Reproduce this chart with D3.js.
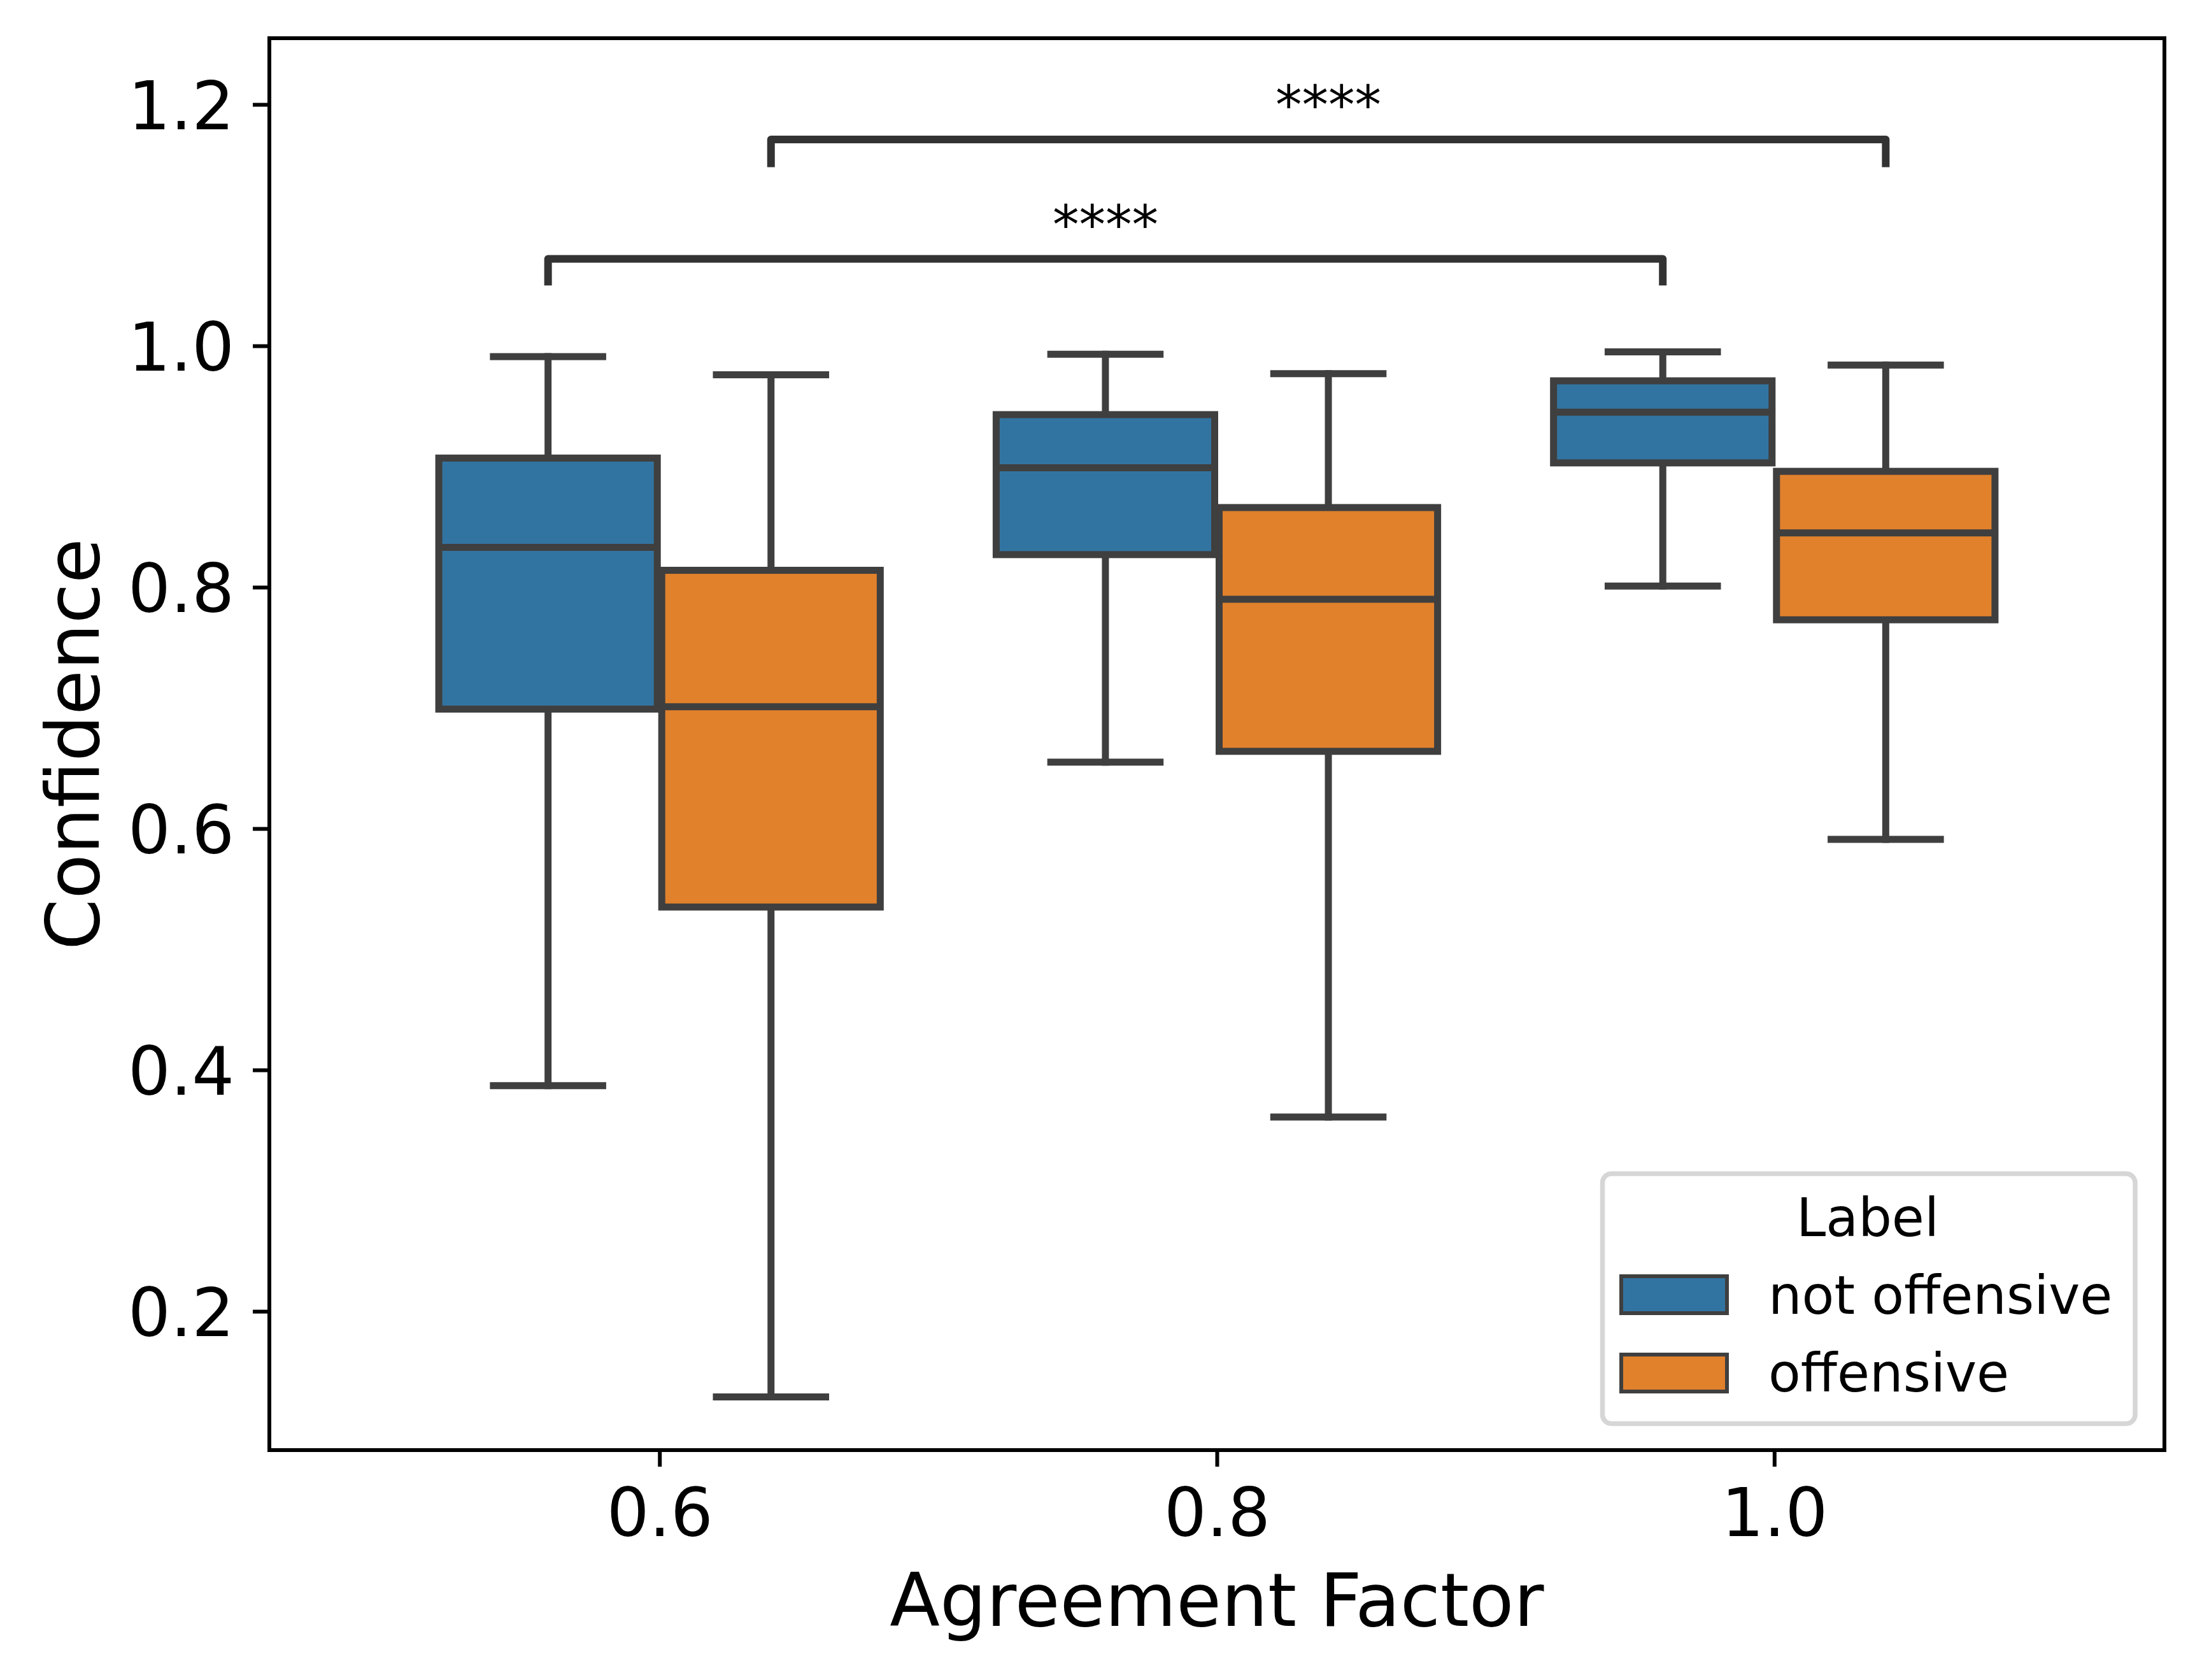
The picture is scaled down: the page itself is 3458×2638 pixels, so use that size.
<!DOCTYPE html>
<html>
<head>
<meta charset="utf-8">
<script src="https://cdn.jsdelivr.net/npm/d3@7"></script>
<style>
  html, body { margin: 0; padding: 0; background: #ffffff; }
  svg { display: block; }
  text { font-family: "DejaVu Sans", sans-serif; }
</style>
</head>
<body>
<svg id="chart" width="3458" height="2638"></svg>
<script>
// ---------------- data ----------------
const categories = ["0.6", "0.8", "1.0"];
const hues = ["not offensive", "offensive"];
const hueColors = ["#3274a1", "#e1812c"];
// each entry: [lower whisker, Q1, median, Q3, upper whisker]
const notOffensiveStats = [
  [0.387, 0.699, 0.833, 0.907, 0.991],
  [0.655, 0.827, 0.899, 0.943, 0.993],
  [0.801, 0.903, 0.945, 0.971, 0.995]
];
const offensiveStats = [
  [0.129, 0.535, 0.701, 0.814, 0.976],
  [0.361, 0.664, 0.790, 0.866, 0.977],
  [0.591, 0.773, 0.845, 0.896, 0.984]
];
const yTicks = [0.2, 0.4, 0.6, 0.8, 1.0, 1.2];
const yDomain = [0.085, 1.2549];
// significance annotations
const annotPairs = [
  { from: ["0.6", "not offensive"], to: ["1.0", "not offensive"], y: 1.072, tip: 1.050, label: "****" },
  { from: ["0.6", "offensive"], to: ["1.0", "offensive"], y: 1.171, tip: 1.148, label: "****" }
];
const xLabel = "Agreement Factor";
const yLabel = "Confidence";
const legendTitle = "Label";

// ---------------- layout ----------------
const L = 423, R = 3399, T = 60, B = 2277;
const lineColor = "#3f3f3f";
const svg = d3.select("#chart");

const x = d3.scalePoint().domain(categories).range([L, R]).padding(0.7);
const step = x.step();
const xh = d3.scaleBand().domain(hues).range([-0.4 * step, 0.4 * step]);
const boxW = xh.bandwidth() * 0.98;
const y = d3.scaleLinear().domain(yDomain).range([B, T]);

svg.append("rect").attr("x", 0).attr("y", 0).attr("width", 3458).attr("height", 2638).attr("fill", "#fff");

// ---------------- boxes ----------------
const seriesStats = [notOffensiveStats, offensiveStats];
const boxData = [];
hues.forEach((h, hi) => {
  categories.forEach((c, ci) => {
    const s = seriesStats[hi][ci];
    boxData.push({ cat: c, hue: h, color: hueColors[hi], lo: s[0], q1: s[1], med: s[2], q3: s[3], hi: s[4] });
  });
});

const gBoxes = svg.append("g");
const bx = d => x(d.cat) + xh(d.hue) + xh.bandwidth() / 2;

const gb = gBoxes.selectAll("g.box").data(boxData).enter().append("g").attr("class", "box");
// whiskers
gb.append("line")
  .attr("x1", bx).attr("x2", bx)
  .attr("y1", d => y(d.q3)).attr("y2", d => y(d.hi))
  .attr("stroke", lineColor).attr("stroke-width", 11).attr("stroke-linecap", "square");
gb.append("line")
  .attr("x1", bx).attr("x2", bx)
  .attr("y1", d => y(d.q1)).attr("y2", d => y(d.lo))
  .attr("stroke", lineColor).attr("stroke-width", 11).attr("stroke-linecap", "square");
// caps
gb.append("line")
  .attr("x1", d => bx(d) - boxW / 4).attr("x2", d => bx(d) + boxW / 4)
  .attr("y1", d => y(d.hi)).attr("y2", d => y(d.hi))
  .attr("stroke", lineColor).attr("stroke-width", 11).attr("stroke-linecap", "square");
gb.append("line")
  .attr("x1", d => bx(d) - boxW / 4).attr("x2", d => bx(d) + boxW / 4)
  .attr("y1", d => y(d.lo)).attr("y2", d => y(d.lo))
  .attr("stroke", lineColor).attr("stroke-width", 11).attr("stroke-linecap", "square");
// box
gb.append("rect")
  .attr("x", d => bx(d) - boxW / 2)
  .attr("y", d => y(d.q3))
  .attr("width", boxW)
  .attr("height", d => y(d.q1) - y(d.q3))
  .attr("fill", d => d.color)
  .attr("stroke", lineColor).attr("stroke-width", 11).attr("stroke-linejoin", "miter");
// median
gb.append("line")
  .attr("x1", d => bx(d) - boxW / 2).attr("x2", d => bx(d) + boxW / 2)
  .attr("y1", d => y(d.med)).attr("y2", d => y(d.med))
  .attr("stroke", lineColor).attr("stroke-width", 11);

// ---------------- annotations ----------------
const gAnn = svg.append("g");
const px = (pair) => x(pair[0]) + xh(pair[1]) + xh.bandwidth() / 2;
annotPairs.forEach(a => {
  const x1 = px(a.from), x2 = px(a.to);
  gAnn.append("path")
    .attr("d", d3.line()([[x1, y(a.tip)], [x1, y(a.y)], [x2, y(a.y)], [x2, y(a.tip)]]))
    .attr("fill", "none").attr("stroke", "#333333").attr("stroke-width", 12)
    .attr("stroke-linejoin", "round");
  gAnn.append("text")
    .attr("x", (x1 + x2) / 2).attr("y", y(a.y) - 25)
    .attr("text-anchor", "middle").attr("font-size", 83).attr("fill", "#000")
    .text(a.label);
});

// ---------------- axes ----------------
const yAxis = d3.axisLeft(y).tickValues(yTicks).tickFormat(d3.format(".1f")).tickSize(26).tickPadding(29);
const gy = svg.append("g").attr("transform", `translate(${L},0)`).call(yAxis);
gy.select(".domain").remove();
gy.selectAll(".tick line").attr("stroke", "#000").attr("stroke-width", 6);
gy.selectAll(".tick text").attr("font-size", 105).attr("fill", "#000").attr("dy", "0.364em")
  .attr("font-family", "DejaVu Sans");

const xAxis = d3.axisBottom(x).tickSize(26);
const gx = svg.append("g").attr("transform", `translate(0,${B})`).call(xAxis);
gx.select(".domain").remove();
gx.selectAll(".tick line").attr("stroke", "#000").attr("stroke-width", 6);
gx.selectAll(".tick text").attr("font-size", 105).attr("fill", "#000").attr("y", 60).attr("dy", "0.71em")
  .attr("font-family", "DejaVu Sans");

// spines
svg.append("rect").attr("x", L).attr("y", T).attr("width", R - L).attr("height", B - T)
  .attr("fill", "none").attr("stroke", "#000").attr("stroke-width", 6);

// axis labels
svg.append("text").attr("x", (L + R) / 2).attr("y", 2553).attr("text-anchor", "middle")
  .attr("font-size", 115).attr("fill", "#000").text(xLabel);
svg.append("text").attr("transform", `translate(155,${(T + B) / 2}) rotate(-90)`)
  .attr("text-anchor", "middle").attr("font-size", 115).attr("fill", "#000").text(yLabel);

// ---------------- legend ----------------
const gLeg = svg.append("g");
gLeg.append("rect").attr("x", 2516.5).attr("y", 1843).attr("width", 836.5).attr("height", 392.5)
  .attr("rx", 14).attr("ry", 14)
  .attr("fill", "#fff").attr("fill-opacity", 0.8).attr("stroke", "#d6d6d6").attr("stroke-width", 7.5);
gLeg.append("text").attr("x", 2933).attr("y", 1941).attr("text-anchor", "middle")
  .attr("font-size", 83).attr("fill", "#000").text(legendTitle);
const legRows = [2004, 2127];
const legBase = [2063, 2185];
hues.forEach((h, i) => {
  gLeg.append("rect").attr("x", 2546).attr("y", legRows[i]).attr("width", 166).attr("height", 58)
    .attr("fill", hueColors[i]).attr("stroke", lineColor).attr("stroke-width", 6);
  gLeg.append("text").attr("x", 2777).attr("y", legBase[i])
    .attr("font-size", 83).attr("fill", "#000").text(h);
});
</script>
</body>
</html>
